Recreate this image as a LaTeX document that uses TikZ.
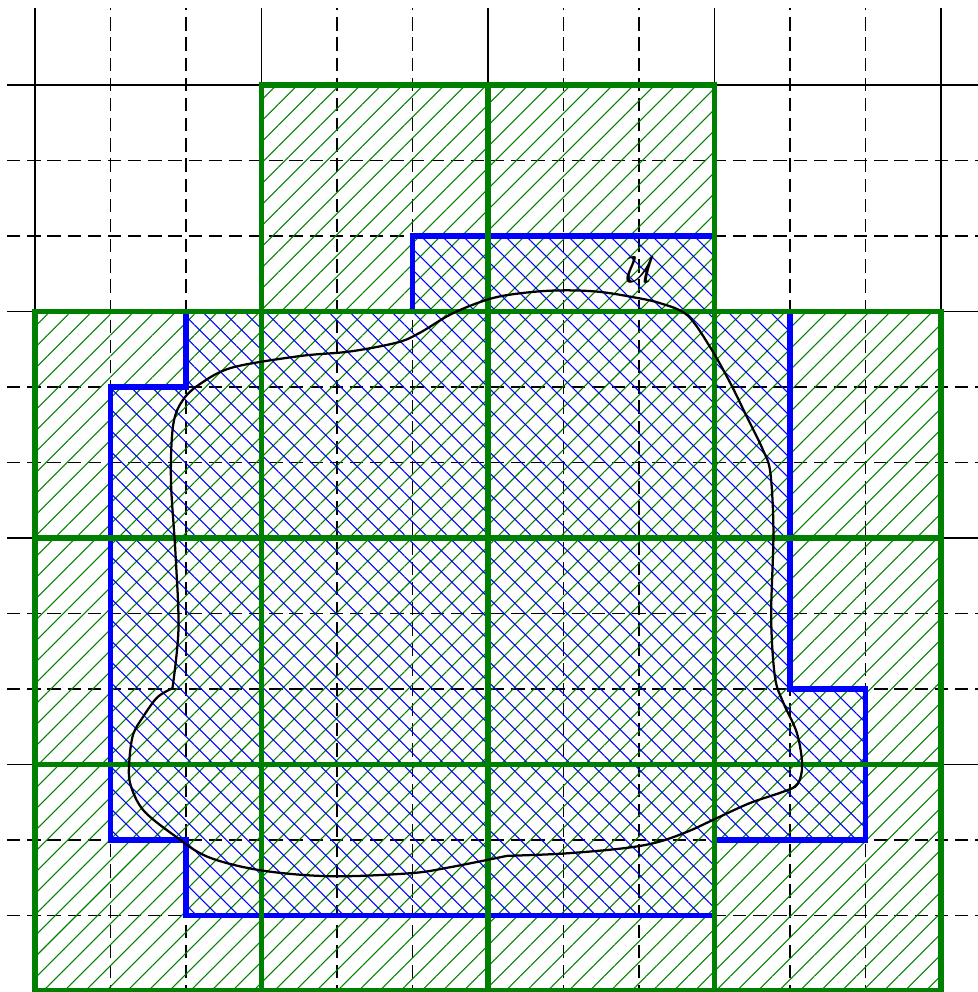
\documentclass[tikz,border=0pt]{standalone}
\usepackage{amsmath,amssymb}
\usepackage{tikz}
\usetikzlibrary{patterns.meta}
\definecolor{cellgreen}{HTML}{008000}
\definecolor{cellblue}{HTML}{0000FF}

\begin{document}
\begin{tikzpicture}[
  coarse/.style    = {draw=black, line width=0.5pt},
  fine/.style      = {draw=black, line width=0.5pt, dash pattern=on 5pt off 2.6pt},
  greenhatch/.style = {pattern={Lines[angle=45,distance=5.6pt,line width=0.4pt]},
                       pattern color=cellgreen},
  bluehatch/.style  = {pattern={Lines[angle=-45,distance=5.6pt,line width=0.4pt]},
                       pattern color=cellblue},
  greenedge/.style  = {draw=cellgreen, line width=2pt},
  blueedge/.style   = {draw=cellblue, line width=2pt},
  setcurve/.style   = {draw=black, line width=0.85pt},
]
\useasboundingbox (-0.464,-0.013) rectangle (12.477,13.126);
% grid
\foreach \x in {1,2,4,5,7,8,10,11}
  \draw[fine] (\x,-0.1) -- (\x,13.02);
\foreach \y in {1,2,4,5,7,8,10,11}
  \draw[fine] (-0.37,\y) -- (12.6,\y);
\foreach \x in {0,3,6,9,12}
  \draw[coarse] (\x,-0.1) -- (\x,13.02);
\foreach \y in {3,6,9,12}
  \draw[coarse] (-0.37,\y) -- (12.6,\y);
% coarse cells
\fill[greenhatch] (0,0) -- (12,0) -- (12,9) -- (9,9) -- (9,12) -- (3,12) -- (3,9)
  -- (0,9) -- cycle;
% fine cells
\draw[bluehatch, blueedge] (5,10) -- (9,10) -- (9,9) -- (10,9) -- (10,4) -- (11,4)
  -- (11,2) -- (9,2) -- (9,1) -- (2,1) -- (2,2) -- (1,2) -- (1,8) -- (2,8) -- (2,9)
  -- (5,9) -- cycle;
\draw[greenedge] (0,0) -- (12,0) -- (12,9) -- (9,9) -- (9,12) -- (3,12) -- (3,9)
  -- (0,9) -- cycle;
\draw[greenedge] (0,3) -- (12,3) (0,6) -- (12,6) (3,9) -- (9,9)
  (3,0) -- (3,12) (6,0) -- (6,12) (9,0) -- (9,9);
% the set
\draw[setcurve] plot[smooth, tension=0.55] coordinates {
    (1.82,4.01) (1.90,4.80) (1.86,5.80) (1.80,6.77) (1.83,7.50) (1.96,7.83)
    (2.20,8.05) (2.62,8.26) (3.51,8.41) (4.17,8.47) (4.80,8.59) (5.10,8.72)
    (5.54,8.98) (6.07,9.18) (6.60,9.26) (7.05,9.28) (7.48,9.26) (7.92,9.19)
    (8.28,9.11) (8.64,8.95) (8.94,8.53) (9.21,8.05) (9.43,7.60) (9.64,7.17)
    (9.74,6.86) (9.78,6.07) (9.75,4.95) (9.80,4.16) (9.91,3.82) (10.09,3.42)
    (10.16,3.00) (10.10,2.74) (9.91,2.64) (9.47,2.49) (9.03,2.29) (8.64,2.11)
    (8.24,1.97) (7.79,1.89) (6.99,1.82) (6.25,1.79)}
  -- plot[smooth, tension=0.55] coordinates {
    (6.25,1.79) (5.50,1.64) (4.97,1.56) (3.91,1.52) (2.98,1.60) (2.28,1.78)
    (1.83,2.07) (1.43,2.40) (1.26,2.75) (1.25,3.06) (1.30,3.40) (1.43,3.63)
    (1.62,3.89) (1.82,4.01)};
\node (setlabel) at (8.03,9.56) {\fontsize{15}{18}\selectfont$\mathcal{U}$};
\end{tikzpicture}
\end{document}
